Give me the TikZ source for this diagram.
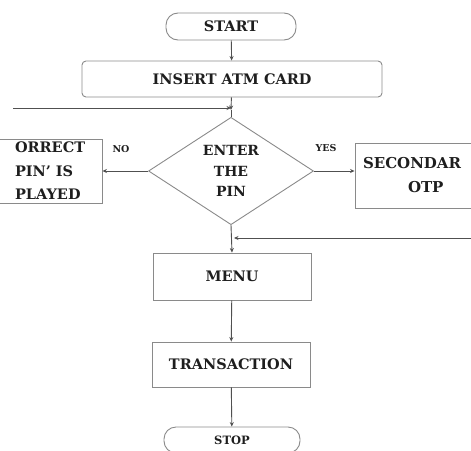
\documentclass[tikz,border=0pt]{standalone}
\usepackage{fontspec}
\setmainfont{DejaVu Serif}
\usetikzlibrary{shapes.geometric,arrows.meta}
\definecolor{linec}{HTML}{505050}
\definecolor{boxc}{HTML}{8A8A8A}
\definecolor{txtc}{HTML}{1E1E1E}
\tikzset{
  base/.style={draw=boxc,line width=0.9pt,text=txtc,font=\fontsize{14.5}{20}\selectfont\bfseries,align=center,inner sep=0pt},
  term/.style={base,rectangle,rounded corners=12pt},
  procbox/.style={base,rectangle},
  decision/.style={base,diamond},
  conn/.style={draw=linec,line width=0.9pt},
  arr/.style={conn,-{Stealth[length=4.5pt,width=4pt]}},
  lbl/.style={text=txtc,font=\fontsize{9.5}{12}\selectfont\bfseries,inner sep=0pt}
}
\begin{document}
\begin{tikzpicture}[x=1pt,y=-1pt]
\useasboundingbox (0,0) rectangle (471,450);
\clip (0,0) rectangle (471,450);
\node[term,minimum width=130pt,minimum height=27pt] (start) at (231,26.5) {START};
\node[procbox,rounded corners=4pt,minimum width=300pt,minimum height=36pt] (insert) at (232,79) {INSERT ATM CARD};
\node[decision,minimum width=165pt,minimum height=104pt,font=\fontsize{14}{20.5}\selectfont\bfseries] (dia) at (231,171) {ENTER\\THE\\PIN};
\node[procbox,minimum width=104pt,minimum height=64pt,text width=70pt,align=left,font=\fontsize{14.5}{23.5}\selectfont\bfseries] (inc) at (50,171) {ORRECT\\PIN' IS\\PLAYED};
\node[procbox,minimum width=120pt,minimum height=65pt,text width=104pt,align=left,font=\fontsize{15}{24}\selectfont\bfseries] (sec) at (415,175.5) {SECONDAR\\\hspace*{45pt}OTP};
\node[procbox,minimum width=158pt,minimum height=47pt] (menu) at (232,276.5) {MENU};
\node[procbox,minimum width=158pt,minimum height=45pt] (trans) at (231,364.5) {TRANSACTION};
\node[term,minimum width=136pt,minimum height=26pt,font=\fontsize{11.5}{14}\selectfont\bfseries] (stop) at (232,440) {STOP};
\node[lbl] (no) at (121,149) {NO};
\node[lbl] (yes) at (326,148) {YES};
\coordinate (j1) at (231,110);
\coordinate (lin) at (13,108);
\coordinate (j2) at (234,238);
\coordinate (rin) at (471,238);
\draw[arr] (start) -- (insert);
\draw[arr] (insert) -- (j1);
\draw[conn] (j1) -- (dia.north);
\draw[arr] (lin) -- (lin -| j1);
\draw[arr] (dia.west) -- (dia.west -| inc.east);
\draw[arr] (dia.east) -- (dia.east -| sec.west);
\draw[arr] (dia.south) -- (menu.north);
\draw[arr] (rin) -- (j2);
\draw[arr] (menu) -- (trans);
\draw[arr] (trans) -- (stop);
\end{tikzpicture}
\end{document}
